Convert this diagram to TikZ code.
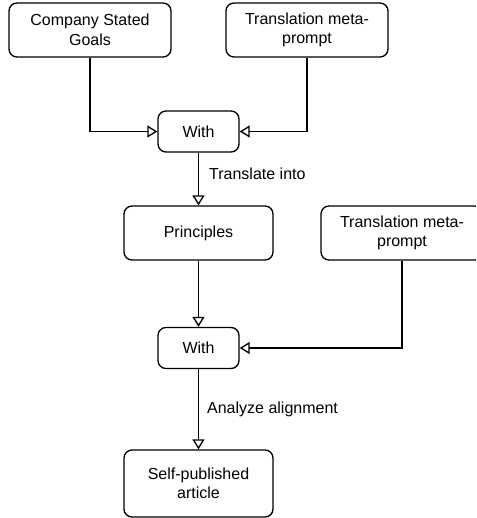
\documentclass[tikz,border=0pt]{standalone}
\usepackage{fontspec}
\setmainfont{Liberation Sans}
\usetikzlibrary{arrows.meta}
\begin{document}
\begin{tikzpicture}[x=1pt,y=-1pt,
  box/.style={draw, line width=1.35pt, rounded corners=8pt, align=center,
    font=\fontsize{16}{19.5}\selectfont, inner sep=0pt},
  arr/.style={draw, line width=1.35pt, -{Triangle[open,length=10pt,width=12pt]}},
  lbl/.style={anchor=west, inner sep=0pt, font=\fontsize{16}{19.5}\selectfont}]
\clip (0,0) rectangle (476,518);
\node[box, minimum width=162pt, minimum height=54pt] (A) at (90,30) {Company Stated\\Goals};
\node[box, minimum width=162pt, minimum height=54pt] (B) at (307,30) {Translation meta-\\prompt};
\node[box, minimum width=81pt, minimum height=41pt] (w1) at (198.5,131.5) {With};
\node[box, minimum width=149pt, minimum height=54pt] (P) at (198.5,233) {Principles};
\node[box, minimum width=162pt, minimum height=54pt] (B2) at (402,233) {Translation meta-\\prompt};
\node[box, minimum width=81pt, minimum height=41pt] (w2) at (198.5,348) {With};
\node[box, minimum width=149pt, minimum height=67pt] (S) at (198.5,483.5) {Self-published\\article};
\draw[arr] (A.south) |- (w1.west);
\draw[arr] (B.south) |- (w1.east);
\draw[arr] (w1.south) -- node[lbl, pos=0.4, xshift=10pt] {Translate into} (P.north);
\draw[arr] (P.south) -- (w2.north);
\draw[arr] (B2.south) |- (w2.east);
\draw[arr] (w2.south) -- node[lbl, pos=0.5, xshift=8pt] {Analyze alignment} (S.north);
\end{tikzpicture}
\end{document}
